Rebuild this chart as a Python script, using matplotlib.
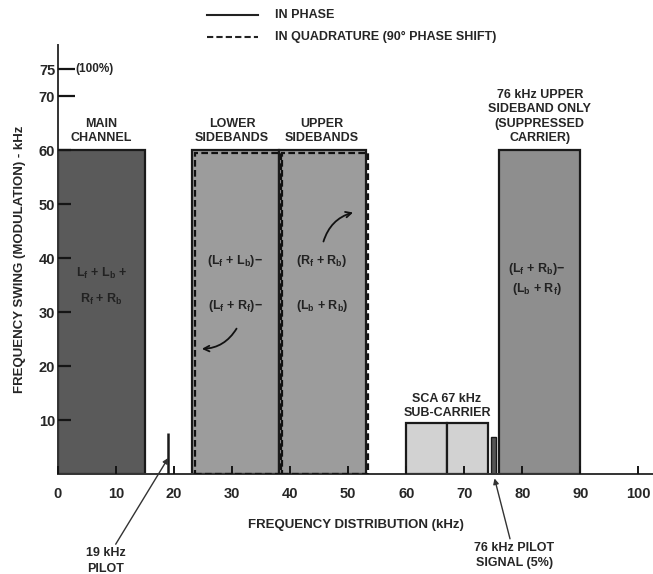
# -*- coding: utf-8 -*-

import matplotlib
matplotlib.use('Agg')
import matplotlib.pyplot as plt
from matplotlib.lines import Line2D
from matplotlib.patches import Rectangle

# spectrum blocks (kHz)
band_left = [0, 23, 38, 60, 67, 76]
band_width = [15, 15, 15, 7, 7, 14]
band_height = [60, 60, 60, 9.4, 9.4, 60]
band_color = ['#5a5a5a', '#9c9c9c', '#9c9c9c', '#d2d2d2', '#d2d2d2', '#8e8e8e']
quadrature = [False, True, True, False, False, False]

# pilots
pilot_freq = [19, 74.6]
pilot_level = [7.6, 6.8]

x_ticks = [0, 10, 20, 30, 40, 50, 60, 70, 80, 90, 100]
y_ticks = [10, 20, 30, 40, 50, 60, 70, 75]

TXT = '#262626'
plt.rcParams['font.family'] = ['Liberation Sans', 'DejaVu Sans']
plt.rcParams['font.weight'] = 'bold'
plt.rcParams['axes.labelweight'] = 'bold'
plt.rcParams['mathtext.fontset'] = 'custom'
plt.rcParams['mathtext.rm'] = 'Liberation Sans:bold'
plt.rcParams['mathtext.it'] = 'Liberation Sans:bold'
plt.rcParams['mathtext.default'] = 'rm'

fig = plt.figure(figsize=(6.53, 5.74), dpi=100)
ax = fig.add_axes([0.0888, 0.174, 0.9112, 0.7476])
ax.set_axisbelow(False)

# blocks
ax.bar(band_left, band_height, band_width, align='edge', color=band_color,
       edgecolor='#1a1a1a', linewidth=1.6, zorder=2)
for l, w, h, q in zip(band_left, band_width, band_height, quadrature):
    if q:
        ax.add_patch(Rectangle((l + 0.6, 0), w - 0.2, h - 0.5, fill=False,
                               edgecolor='#111111', linestyle=(0, (3, 1.5)),
                               linewidth=1.6, zorder=3))

# pilots
ax.vlines(pilot_freq[0], 0, pilot_level[0], color='#1a1a1a', lw=1.8, zorder=3)
ax.bar(pilot_freq[1], pilot_level[1], 0.8, align='edge', color='#555555',
       edgecolor='#1a1a1a', linewidth=1.0, zorder=2)

ax.set_xlim(0, 102.5)
ax.set_ylim(0, 79.5)
for s in ['top', 'right']:
    ax.spines[s].set_visible(False)
ax.spines['left'].set_color('#333333')
ax.spines['bottom'].set_color('#333333')
ax.spines['left'].set_linewidth(1.4)
ax.spines['bottom'].set_linewidth(1.4)

ax.set_xticks(x_ticks)
ax.set_xticklabels([str(t) for t in x_ticks], fontsize=10.5, color=TXT)
ax.tick_params(axis='x', direction='in', length=6, width=1.4, pad=9, color='#151515')
ax.set_yticks(y_ticks)
ax.set_yticklabels([str(t) for t in y_ticks], fontsize=10.5, color=TXT)
ax.tick_params(axis='y', direction='in', length=9, width=1.6, pad=2, color='#151515')
for t in ax.yaxis.get_major_ticks()[-2:]:
    t.tick1line.set_markersize(12)

ax.set_xlabel('FREQUENCY DISTRIBUTION (kHz)', fontsize=9.5, color=TXT, labelpad=13)
ax.set_ylabel('FREQUENCY SWING (MODULATION) - kHz', fontsize=9.5, color=TXT, labelpad=9)

ax.text(3.0, 75, '(100%)', fontsize=8.5, color=TXT, va='center')

# block titles
kw = dict(fontsize=9, color=TXT, ha='center', va='bottom', linespacing=1.25)
ax.text(7.5, 61.2, 'MAIN\nCHANNEL', **kw)
ax.text(30, 61.2, 'LOWER\nSIDEBANDS', **kw)
ax.text(45.5, 61.2, 'UPPER\nSIDEBANDS', **kw)
ax.text(83, 61.2, '76 kHz UPPER\nSIDEBAND ONLY\n(SUPPRESSED\nCARRIER)', **kw)
ax.text(67, 10.2, 'SCA 67 kHz\nSUB-CARRIER', **kw)

# signal contents
kw2 = dict(fontsize=9, color='#222222', ha='center', va='center', zorder=5)
ax.text(7.5, 37.2, r'$L_f$ + $L_b$ +', **kw2)
ax.text(7.5, 32.4, r'$R_f$ + $R_b$', **kw2)
ax.text(30.5, 39.5, r'($L_f$ + $L_b$)$-$', **kw2)
ax.text(30.5, 31.2, r'($L_f$ + $R_f$)$-$', **kw2)
ax.text(45.5, 39.5, r'($R_f$ + $R_b$)', **kw2)
ax.text(45.5, 31.2, r'($L_b$ + $R_b$)', **kw2)
ax.text(82.5, 38.0, r'($L_f$ + $R_b$)$-$', **kw2)
ax.text(82.5, 34.3, r'($L_b$ + $R_f$)', **kw2)

ax.annotate('', xy=(24.3, 23.2), xytext=(31.0, 27.4),
            arrowprops=dict(arrowstyle='->', color='#111111', lw=1.3,
                            connectionstyle='arc3,rad=-0.3'), zorder=5)
ax.annotate('', xy=(51.3, 48.6), xytext=(45.6, 42.6),
            arrowprops=dict(arrowstyle='->', color='#111111', lw=1.3,
                            connectionstyle='arc3,rad=-0.3'), zorder=5)

# pilot callouts
ax.annotate('19 kHz\nPILOT', xy=(19, 3.0), xytext=(8.2, -13.5),
            fontsize=9, color=TXT, ha='center', va='top', linespacing=1.4,
            annotation_clip=False,
            arrowprops=dict(arrowstyle='-|>', color='#333333', lw=1.0,
                            mutation_scale=8, shrinkA=0, shrinkB=0))
ax.annotate('76 kHz PILOT\nSIGNAL (5%)', xy=(75.2, -0.8), xytext=(78.6, -12.5),
            fontsize=9, color=TXT, ha='center', va='top', linespacing=1.4,
            annotation_clip=False,
            arrowprops=dict(arrowstyle='-|>', color='#333333', lw=1.0,
                            mutation_scale=8, shrinkA=0, shrinkB=0))

# legend at top
fig.add_artist(Line2D([0.317, 0.395], [0.974, 0.974], color='#222222', lw=1.5))
fig.add_artist(Line2D([0.317, 0.395], [0.936, 0.936], color='#222222', lw=1.5,
                      linestyle=(0, (3, 1.5))))
fig.text(0.421, 0.974, 'IN PHASE', fontsize=9, color=TXT, va='center')
fig.text(0.421, 0.936, 'IN QUADRATURE (90° PHASE SHIFT)', fontsize=9,
         color=TXT, va='center')

fig.savefig('out.png', dpi=100)
